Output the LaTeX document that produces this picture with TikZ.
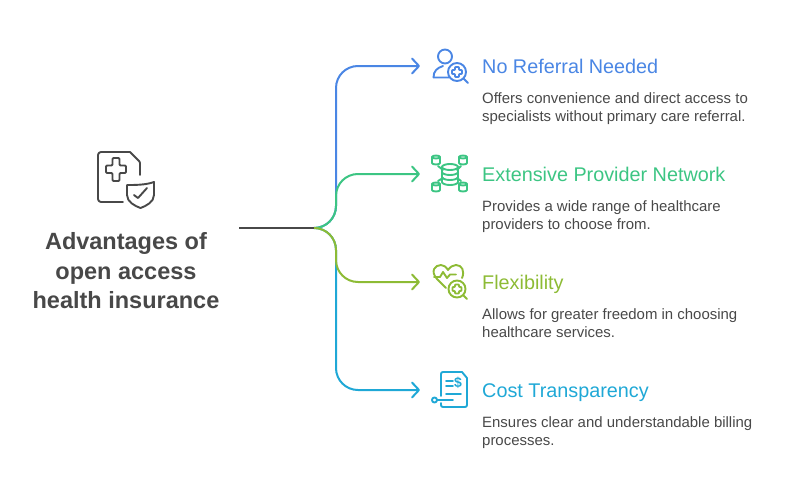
\documentclass[tikz,border=0pt]{standalone}
\usepackage{fontspec}
\setmainfont{Liberation Sans}
\usepackage{xcolor}
\usetikzlibrary{arrows.meta}
\definecolor{ink}{HTML}{484848}
\definecolor{cblue}{HTML}{4A86E4}
\definecolor{cgreen}{HTML}{3CC583}
\definecolor{clime}{HTML}{8DBB35}
\definecolor{cteal}{HTML}{1FA8D6}

\begin{document}
\begin{tikzpicture}[x=1pt,y=-1pt]
    \def\tx{482}
    \def\bx{336}
    \def\ax{420}
    \def\ty{66}
    \def\dy{108}

    \tikzstyle{title}=[text=ink,font=\fontsize{23.5}{29.5}\selectfont\bfseries,align=center]
    \tikzstyle{head}=[anchor=base west,inner sep=0pt,font=\fontsize{19.8}{24}\selectfont]
    \tikzstyle{body}=[anchor=north west,text=ink,align=left,inner sep=0pt,font=\fontsize{14.95}{18}\selectfont]
    \tikzstyle{fwd}=[line width=2pt,-{Straight Barb[length=7pt,width=15pt,round]}]
    \tikzstyle{icon}=[line width=1.9pt,line cap=round,line join=round]

    \useasboundingbox (0,0) rectangle (792,498);

    \node[title] (root) at (126,271) {Advantages of\\open access\\health insurance};

    \node[head,text=cblue] (h1) at (\tx,\ty+7) {No Referral Needed};
    \node[body] (b1) at (\tx,\ty+26.5) {Offers convenience and direct access to\\specialists without primary care referral.};

    \node[head,text=cgreen] (h2) at (\tx,\ty+1*\dy+7) {Extensive Provider Network};
    \node[body] (b2) at (\tx,\ty+1*\dy+26.5) {Provides a wide range of healthcare\\providers to choose from.};

    \node[head,text=clime] (h3) at (\tx,\ty+2*\dy+7) {Flexibility};
    \node[body] (b3) at (\tx,\ty+2*\dy+26.5) {Allows for greater freedom in choosing\\healthcare services.};

    \node[head,text=cteal] (h4) at (\tx,\ty+3*\dy+7) {Cost Transparency};
    \node[body] (b4) at (\tx,\ty+3*\dy+26.5) {Ensures clear and understandable billing\\processes.};

    \coordinate (s0) at (239,228);
    \coordinate (hub) at (314,228);
    \coordinate (up) at (\bx,206);
    \coordinate (dn) at (\bx,250);
    \coordinate (t1) at (358,\ty);
    \coordinate (t2) at (358,\ty+1*\dy);
    \coordinate (t3) at (358,\ty+2*\dy);
    \coordinate (t4) at (358,\ty+3*\dy);
    \coordinate (k1) at (\bx,\ty+22);
    \coordinate (k2) at (\bx,\ty+1*\dy+22);
    \coordinate (k3) at (\bx,\ty+2*\dy-22);
    \coordinate (k4) at (\bx,\ty+3*\dy-22);
    \coordinate (a1) at (\ax,\ty);
    \coordinate (a2) at (\ax,\ty+1*\dy);
    \coordinate (a3) at (\ax,\ty+2*\dy);
    \coordinate (a4) at (\ax,\ty+3*\dy);

    \draw [fwd,cblue] (hub) to[out=0,in=-90] (up) -- (k1) to[out=90,in=180] (t1) -- (a1);
    \draw [fwd,cteal] (hub) to[out=0,in=90] (dn) -- (k4) to[out=-90,in=180] (t4) -- (a4);
    \draw [fwd,cgreen] (hub) to[out=0,in=-90] (up) -- (k2) to[out=90,in=180] (t2) -- (a2);
    \draw [fwd,clime] (hub) to[out=0,in=90] (dn) -- (k3) to[out=-90,in=180] (t3) -- (a3);
    \draw [line width=2pt,ink] (s0) -- (hub);

    % main icon
    \begin{scope}[icon,ink]
        \draw[rounded corners=3pt] (123,202) -- (98,202) -- (98,152) -- (130,152);
        \draw[rounded corners=1pt] (130,152) -- (140,162) -- (140,175);
        \draw[rounded corners=1pt] (112.5,158) -- (119.5,158) -- (119.5,165.5) -- (126,165.5) -- (126,173) -- (119.5,173) -- (119.5,181) -- (112.5,181) -- (112.5,173) -- (106,173) -- (106,165.5) -- (112.5,165.5) -- cycle;
        \draw (127,185) .. controls (135,185) and (146,185) .. (154,182) -- (154,195) .. controls (154,202) and (146,206) .. (140.5,208) .. controls (135,206) and (127,202) .. (127,195) -- cycle;
        \draw (134,195) -- (138,198) -- (147,188);
    \end{scope}

    % blue icon
    \begin{scope}[icon,cblue]
        \draw (445,56.5) circle (7);
        \draw (449,77.5) -- (433.5,77.5) .. controls (433.5,71) and (437,68) .. (443,66);
        \draw (457,72) circle (9);
        \draw (463.5,78.5) -- (468,83);
        \draw[rounded corners=0.8pt] (455,67) -- (459,67) -- (459,70) -- (462,70) -- (462,74) -- (459,74) -- (459,77) -- (455,77) -- (455,74) -- (452,74) -- (452,70) -- (455,70) -- cycle;
    \end{scope}

    % green icon
    \begin{scope}[icon,cgreen]
        \foreach \px/\py in {436/160,463/160,436/187,463/187}{
            \draw (\px-4,\py-3) arc (180:360:4 and 1.5) -- (\px+4,\py+3) arc (0:180:4 and 1.5) -- cycle;
            \draw (\px-4,\py-3) arc (180:0:4 and 1.5);
        }
        \draw (450,167) ellipse (8 and 3);
        \draw (442,167) -- (442,182) arc (180:0:8 and 3) -- (458,167);
        \draw (442,172) arc (180:0:8 and 3);
        \draw (442,177) arc (180:0:8 and 3);
        \draw (438,166) -- (443,170);
        \draw (461,166) -- (457,170);
        \draw (438,181) -- (443,178);
        \draw (461,181) -- (457,178);
    \end{scope}

    % lime icon
    \begin{scope}[icon,clime]
        \draw (446,288) -- (437,279) .. controls (430,271) and (435,265) .. (441,265) .. controls (444,265) and (446,267) .. (448,270) .. controls (450,267) and (453,265) .. (456,265) .. controls (462,265) and (465,271) .. (462,278);
        \draw (434,277) -- (440,277) -- (443,272) -- (447,278) -- (450,274.5) -- (456,274.5);
        \draw (457,289) circle (8.5);
        \draw (463.5,295.5) -- (467,299);
        \draw[rounded corners=0.8pt] (455,284.5) -- (459,284.5) -- (459,287) -- (461.5,287) -- (461.5,291) -- (459,291) -- (459,293.5) -- (455,293.5) -- (455,291) -- (452.5,291) -- (452.5,287) -- (455,287) -- cycle;
    \end{scope}

    % teal icon
    \begin{scope}[icon,cteal]
        \draw[rounded corners=2pt] (441,396) -- (441,372) -- (462,372);
        \draw (462,372) -- (467,378);
        \draw[rounded corners=2pt] (467,378) -- (467,407) -- (441,407) -- (441,403);
        \draw (446,381) -- (453,381);
        \draw (446,386) -- (453,386);
        \draw (446,394) -- (461,394);
        \draw (437,400) -- (453,400);
        \draw (434.5,400) circle (2.5);
        \node[inner sep=0pt,text=cteal,font=\fontsize{14}{14}\selectfont\bfseries] (dollar) at (458,383) {\$};
    \end{scope}
\end{tikzpicture}
\end{document}
